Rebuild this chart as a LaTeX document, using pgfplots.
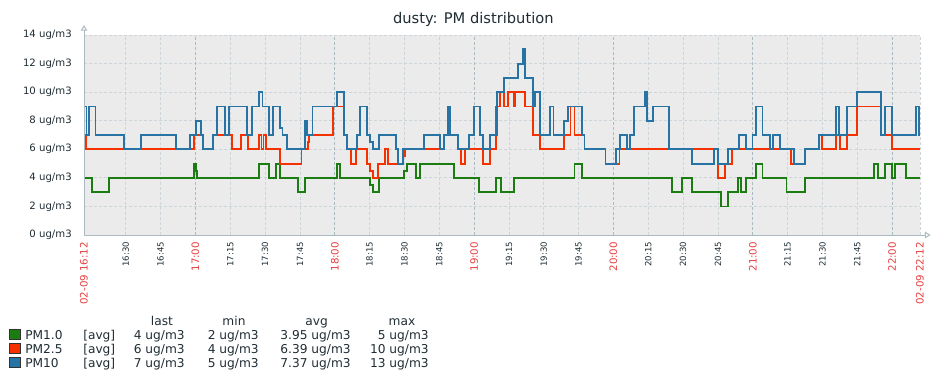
\documentclass[border=0pt]{standalone}
\usepackage{fontspec}
\setmainfont{DejaVu Sans}
\usepackage{pgfplots}
\pgfplotsset{compat=1.18}
\usetikzlibrary{arrows.meta}
\definecolor{pmone}{HTML}{1A7C11}
\definecolor{pmtwo}{HTML}{F63100}
\definecolor{pmten}{HTML}{2774A4}
\definecolor{bggrey}{HTML}{EBEBEB}
\definecolor{gridc}{HTML}{CCD5D9}
\definecolor{hourgrid}{HTML}{ACBBC2}
\definecolor{axisc}{HTML}{ACBBC2}
\definecolor{hourred}{HTML}{E84040}
\definecolor{txt}{HTML}{1F2C33}
\begin{document}
\begin{tikzpicture}
\begin{axis}[
  at={(63pt,108.75pt)}, anchor=south west,
  scale only axis, width=627pt, height=150pt,
  xmin=0, xmax=360, ymin=0, ymax=14,
  axis background/.style={fill=bggrey},
  axis line style={draw=none},
  major tick length=0pt,
  grid=major,
  major grid style={color=gridc, line width=0.6pt, dash pattern=on 2.25pt off 1.5pt},
  ytick={0,2,4,6,8,10,12,14},
  yticklabels={0 ug/m3,2 ug/m3,4 ug/m3,6 ug/m3,8 ug/m3,10 ug/m3,12 ug/m3,14 ug/m3},
  yticklabel style={anchor=east, inner sep=0pt, text=txt, font=\fontsize{7.6pt}{9pt}\selectfont},
  yticklabel shift=9pt,
  xtick={0,18,33,63,78,93,123,138,153,183,198,213,243,258,273,303,318,333,360},
  xticklabels={{\textcolor{hourred}{\fontsize{7.7pt}{9pt}\selectfont 02-09 16:12}},16:30,16:45,17:15,17:30,17:45,18:15,18:30,18:45,19:15,19:30,19:45,20:15,20:30,20:45,21:15,21:30,21:45,{\textcolor{hourred}{\fontsize{7.7pt}{9pt}\selectfont 02-09 22:12}}},
  xticklabel style={rotate=90, anchor=east, inner sep=0pt, text=txt, font=\fontsize{6.4pt}{8pt}\selectfont},
  xticklabel shift=5pt,
  extra x ticks={48,108,168,228,288,348},
  extra x tick labels={17:00,18:00,19:00,20:00,21:00,22:00},
  extra x tick style={grid=major,
    major grid style={color=hourgrid, line width=0.6pt, dash pattern=on 2.25pt off 1.5pt},
    xticklabel style={text=hourred, font=\fontsize{7.7pt}{9pt}\selectfont}},
]
% PM1.0
\addplot[const plot, color=pmone, line width=1.4pt] coordinates {
(0,4)(3.54,3)(10.69,4)(47.35,5)(48.21,4.5)(48.81,4)(75.38,5)(79.69,4)(82.58,5)(84.43,4)(92.19,3)(95.21,4)(108.88,5)(110.17,4)(123.24,3.5)(124.28,3)(127.12,4)(137.90,4.5)(138.93,5)(142.94,4)(144.80,5)(159.46,4)(170.24,3)(177.44,4)(179.60,3)(185.33,4)(211.21,5)(214.40,4)(253.21,3)(257.65,4)(261.97,3)(274.16,2)(277.36,3)(281.67,4)(283.09,3)(284.95,4)(289.26,5)(292.15,4)(302.50,3)(310.39,4)(340.32,5)(342.04,4)(344.89,5)(347.78,4)(349.20,5)(353.95,4)(360,4)
};
% PM2.5
\addplot[const plot, color=pmtwo, line width=1.4pt] coordinates {
(0,7)(0.86,6)(47.35,7)(51.40,6)(55.71,7)(63.91,6)(67.79,7)(70.63,6)(75.38,7)(76.41,6)(77.28,7)(78.27,6)(84.43,5)(93.66,6)(96.51,6.5)(96.94,7)(107.29,9)(112.03,7)(113.19,6)(114.91,5)(117.07,6)(121.82,5)(123.24,4.5)(124.28,4)(126.69,5)(129.58,6)(131.0,5)(137.21,5.5)(138.20,6)(155.15,7)(160.93,6)(162.35,5)(164.08,6)(171.71,5)(174.86,6)(177.44,9)(179.17,10)(180.76,9)(182.75,10)(185.33,9)(185.76,10)(190.08,9)(193.27,7)(196.42,6)(206.64,7)(209.49,9)(211.21,7)(215.52,6)(224.58,5)(230.61,6)(273.05,4)(275.89,5)(279.08,6)(304.34,5)(310.39,6)(316.43,7)(317.90,6)(323.76,7)(325.49,6)(328.38,7)(332.99,9)(343.17,7)(347.78,6)(360,6)
};
% PM10
\addplot[const plot, color=pmten, line width=1.4pt] coordinates {
(0,9)(1.08,7)(2.07,9)(4.96,7)(17.16,6)(24.36,7)(39.76,6)(45.62,7)(48.38,8)(50.24,7)(51.40,6)(55.71,7)(57.44,9)(60.89,7)(62.44,9)(70.37,7)(72.36,9)(75.38,10)(76.84,9)(79.69,7)(81.41,9)(84.43,7.5)(85.46,7)(87.32,6)(95.21,8)(95.94,7)(98.40,9)(108.88,10)(112.03,7)(113.19,6)(117.50,7)(118.93,9)(121.82,7)(123.24,6.5)(124.28,6)(127.12,7)(134.45,6)(135.31,5)(137.21,6)(146.27,6.5)(146.52,7)(153.42,6)(155.15,7)(156.87,9)(157.73,7)(160.93,6)(165.93,7)(167.83,9)(170.67,7)(171.97,6)(174.99,7)(177.88,10)(181.02,11)(187.06,12)(188.96,13)(190.08,11)(193.27,9)(194.39,10)(196.42,7)(200.73,9)(202.15,7)(206.64,8)(208.36,9)(214.40,7)(215.52,6)(224.58,5)(229.19,6)(230.92,7)(233.81,6)(235.23,7)(236.83,9)(241.40,10)(242.56,8)(245.02,9)(251.75,6)(261.97,5)(271.32,6)(273.05,5)(277.36,6)(281.93,7)(284.95,6)(287.84,7)(289.26,9)(292.15,7)(295.30,6)(296.77,7)(299.61,6)(305.82,5)(310.39,6)(316.43,7)(323.76,9)(325.23,7)(328.38,9)(332.99,10)(343.17,7)(344.89,9)(347.78,7)(358.26,9)(359.6,7)(360,7)
};
\end{axis}
% axis lines with open arrow tips
\draw[axisc, line width=0.75pt, -{Triangle[open, length=4.3pt, width=5pt]}] (63pt,108.75pt) -- (63pt,266.25pt);
\draw[axisc, line width=0.75pt, -{Triangle[open, length=4.3pt, width=5pt]}] (63pt,108.75pt) -- (698pt,108.75pt);
% title
\node[anchor=base, inner sep=0pt, text=txt, font=\fontsize{11pt}{13pt}\selectfont] at (355pt,267.5pt) {dusty: PM distribution};
% legend
\begin{scope}[font=\fontsize{9.15pt}{11pt}\selectfont, text=txt]
\node[anchor=base, inner sep=0pt] at (121.5pt,41.25pt) {last};
\node[anchor=base, inner sep=0pt] at (175.5pt,41.25pt) {min};
\node[anchor=base, inner sep=0pt] at (237.4pt,41.25pt) {avg};
\node[anchor=base, inner sep=0pt] at (301.5pt,41.25pt) {max};
\filldraw[fill=pmone, draw=black!80, line width=0.6pt] (7.2pt,30.3pt) rectangle (15pt,38.1pt);
\filldraw[fill=pmtwo, draw=black!80, line width=0.6pt] (7.2pt,19.8pt) rectangle (15pt,27.6pt);
\filldraw[fill=pmten, draw=black!80, line width=0.6pt] (7.2pt,9.3pt) rectangle (15pt,17.1pt);
\node[anchor=base west, inner sep=0pt] at (18.75pt,30.75pt) {PM1.0};
\node[anchor=base west, inner sep=0pt] at (18.75pt,20.25pt) {PM2.5};
\node[anchor=base west, inner sep=0pt] at (18.75pt,9.75pt) {PM10};
\node[anchor=base west, inner sep=0pt] at (62.25pt,30.75pt) {[avg]};
\node[anchor=base west, inner sep=0pt] at (62.25pt,20.25pt) {[avg]};
\node[anchor=base west, inner sep=0pt] at (62.25pt,9.75pt) {[avg]};
\node[anchor=base east, inner sep=0pt] at (138.75pt,30.75pt) {4 ug/m3};
\node[anchor=base east, inner sep=0pt] at (138.75pt,20.25pt) {6 ug/m3};
\node[anchor=base east, inner sep=0pt] at (138.75pt,9.75pt) {7 ug/m3};
\node[anchor=base east, inner sep=0pt] at (194.25pt,30.75pt) {2 ug/m3};
\node[anchor=base east, inner sep=0pt] at (194.25pt,20.25pt) {4 ug/m3};
\node[anchor=base east, inner sep=0pt] at (194.25pt,9.75pt) {5 ug/m3};
\node[anchor=base east, inner sep=0pt] at (263.25pt,30.75pt) {3.95 ug/m3};
\node[anchor=base east, inner sep=0pt] at (263.25pt,20.25pt) {6.39 ug/m3};
\node[anchor=base east, inner sep=0pt] at (263.25pt,9.75pt) {7.37 ug/m3};
\node[anchor=base east, inner sep=0pt] at (321.75pt,30.75pt) {5 ug/m3};
\node[anchor=base east, inner sep=0pt] at (321.75pt,20.25pt) {10 ug/m3};
\node[anchor=base east, inner sep=0pt] at (321.75pt,9.75pt) {13 ug/m3};
\end{scope}
\pgfresetboundingbox
\useasboundingbox (0pt,0pt) rectangle (708.75pt,285pt);
\end{tikzpicture}
\end{document}
